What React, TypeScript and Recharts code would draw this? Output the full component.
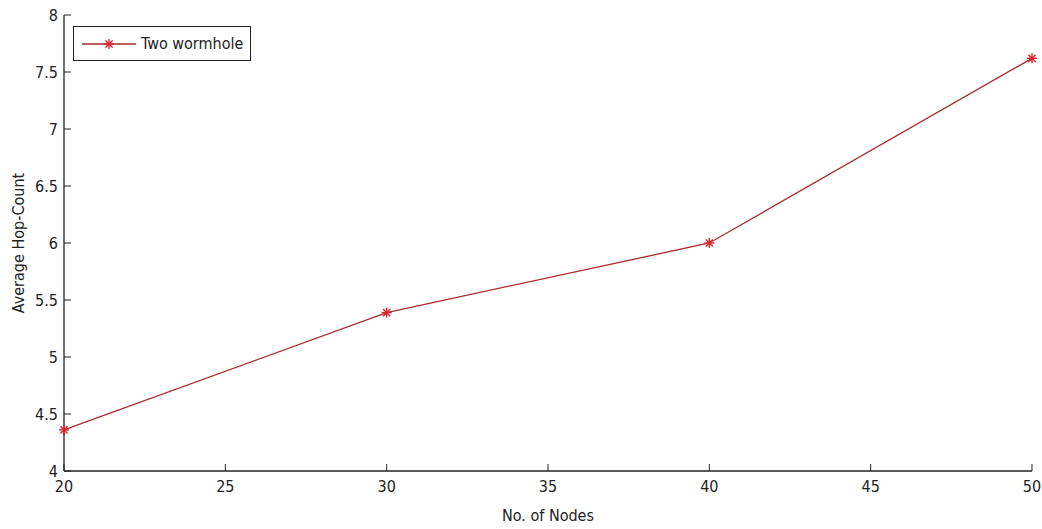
import { LineChart, Line, XAxis, YAxis, Legend } from 'recharts';

const nodes = [20, 30, 40, 50];
const hopCount = [4.36, 5.39, 6.0, 7.62];
const xTicks = [20, 25, 30, 35, 40, 45, 50];
const yTicks = [4, 4.5, 5, 5.5, 6, 6.5, 7, 7.5, 8];

const data = nodes.map((n, i) => ({ nodes: n, hop: hopCount[i] }));

const FONT = "'Liberation Sans Narrow', 'DejaVu Sans Condensed', Arial, sans-serif";
const LINE = '#a82a2e';
const MARK = '#e0202a';
const TICK = 7;
const FS = 16;

function Star({ cx, cy }: any) {
  if (cx == null || cy == null) return null;
  const r = 5;
  const d = r * 0.72;
  return (
    <g stroke={MARK} strokeWidth={1.4}>
      <line x1={cx - r} y1={cy} x2={cx + r} y2={cy} />
      <line x1={cx} y1={cy - r} x2={cx} y2={cy + r} />
      <line x1={cx - d} y1={cy - d} x2={cx + d} y2={cy + d} />
      <line x1={cx - d} y1={cy + d} x2={cx + d} y2={cy - d} />
    </g>
  );
}

// left axis: label + inward tick
function LeftTick({ x, y, payload }: any) {
  const ax = x + 6;
  return (
    <g>
      <line x1={ax} y1={y} x2={ax + TICK} y2={y} stroke="#222" />
      <text x={x} y={y} dy={6} textAnchor="end" fontSize={FS} fontFamily={FONT} fill="#222">
        {payload.value}
      </text>
    </g>
  );
}

function RightTick({ x, y }: any) {
  const ax = x - 6;
  return <line x1={ax} y1={y} x2={ax - TICK} y2={y} stroke="#222" />;
}

function BottomTick({ x, y, payload }: any) {
  const ay = y - 4;
  return (
    <g>
      <line x1={x} y1={ay} x2={x} y2={ay - TICK} stroke="#222" />
      <text x={x} y={ay + 21} textAnchor="middle" fontSize={FS} fontFamily={FONT} fill="#222">
        {payload.value}
      </text>
    </g>
  );
}

function TopTick({ x, y }: any) {
  const ay = y + 4;
  return <line x1={x} y1={ay} x2={x} y2={ay + TICK} stroke="#222" />;
}

function LegendBox() {
  return (
    <div
      style={{
        width: 176,
        height: 33,
        border: '1px solid #222',
        background: '#fff',
        display: 'flex',
        alignItems: 'center',
        whiteSpace: 'nowrap',
        fontFamily: FONT,
        fontSize: FS,
        color: '#222',
      }}
    >
      <svg width={64} height={20} style={{ marginLeft: 2, flexShrink: 0 }}>
        <line x1={6} y1={10} x2={60} y2={10} stroke={LINE} strokeWidth={1.3} />
        <Star cx={33} cy={10} />
      </svg>
      <span style={{ marginLeft: 1 }}>Two wormhole</span>
    </div>
  );
}

export default function App() {
  return (
    <div style={{ position: 'absolute', left: 0, top: 0, width: 1042, height: 529, background: '#fff' }}>
      <LineChart width={1042} height={529} data={data} margin={{ top: 15, right: 10, bottom: 28, left: 14 }}>
        <XAxis
          xAxisId="b"
          dataKey="nodes"
          type="number"
          domain={[20, 50]}
          ticks={xTicks}
          height={30}
          tickLine={false}
          tickSize={0}
          tickMargin={4}
          tick={<BottomTick />}
          axisLine={{ stroke: '#222', strokeWidth: 1.3 }}
          label={{ value: 'No. of Nodes', position: 'insideBottom', offset: -20, fontSize: FS, fontFamily: FONT, fill: '#222' }}
        />
        <XAxis
          xAxisId="t"
          orientation="top"
          dataKey="nodes"
          type="number"
          domain={[20, 50]}
          ticks={xTicks}
          height={0}
          tickLine={false}
          tickSize={0}
          tickMargin={4}
          tick={<TopTick />}
          axisLine={{ stroke: '#222', strokeWidth: 1.3 }}
        />
        <YAxis
          yAxisId="l"
          type="number"
          domain={[4, 8]}
          ticks={yTicks}
          width={50}
          tickLine={false}
          tickSize={0}
          tickMargin={6}
          tick={<LeftTick />}
          axisLine={{ stroke: '#222', strokeWidth: 1.3 }}
          label={{ value: 'Average Hop-Count', angle: -90, position: 'insideLeft', offset: 4, fontSize: FS, fontFamily: FONT, fill: '#222', style: { textAnchor: 'middle' } }}
        />
        <YAxis
          yAxisId="r"
          orientation="right"
          type="number"
          domain={[4, 8]}
          ticks={yTicks}
          width={0}
          tickLine={false}
          tickSize={0}
          tickMargin={6}
          tick={<RightTick />}
          axisLine={{ stroke: '#222', strokeWidth: 1.3 }}
        />
        <Legend
          layout="vertical"
          align="center"
          verticalAlign="middle"
          content={<LegendBox />}
          wrapperStyle={{ left: 73, top: 26, width: 178 }}
        />
        <Line
          xAxisId="b"
          yAxisId="l"
          dataKey="hop"
          name="Two wormhole"
          type="linear"
          stroke={LINE}
          strokeWidth={1.3}
          dot={<Star />}
          activeDot={false}
          isAnimationActive={false}
        />
      </LineChart>
    </div>
  );
}
